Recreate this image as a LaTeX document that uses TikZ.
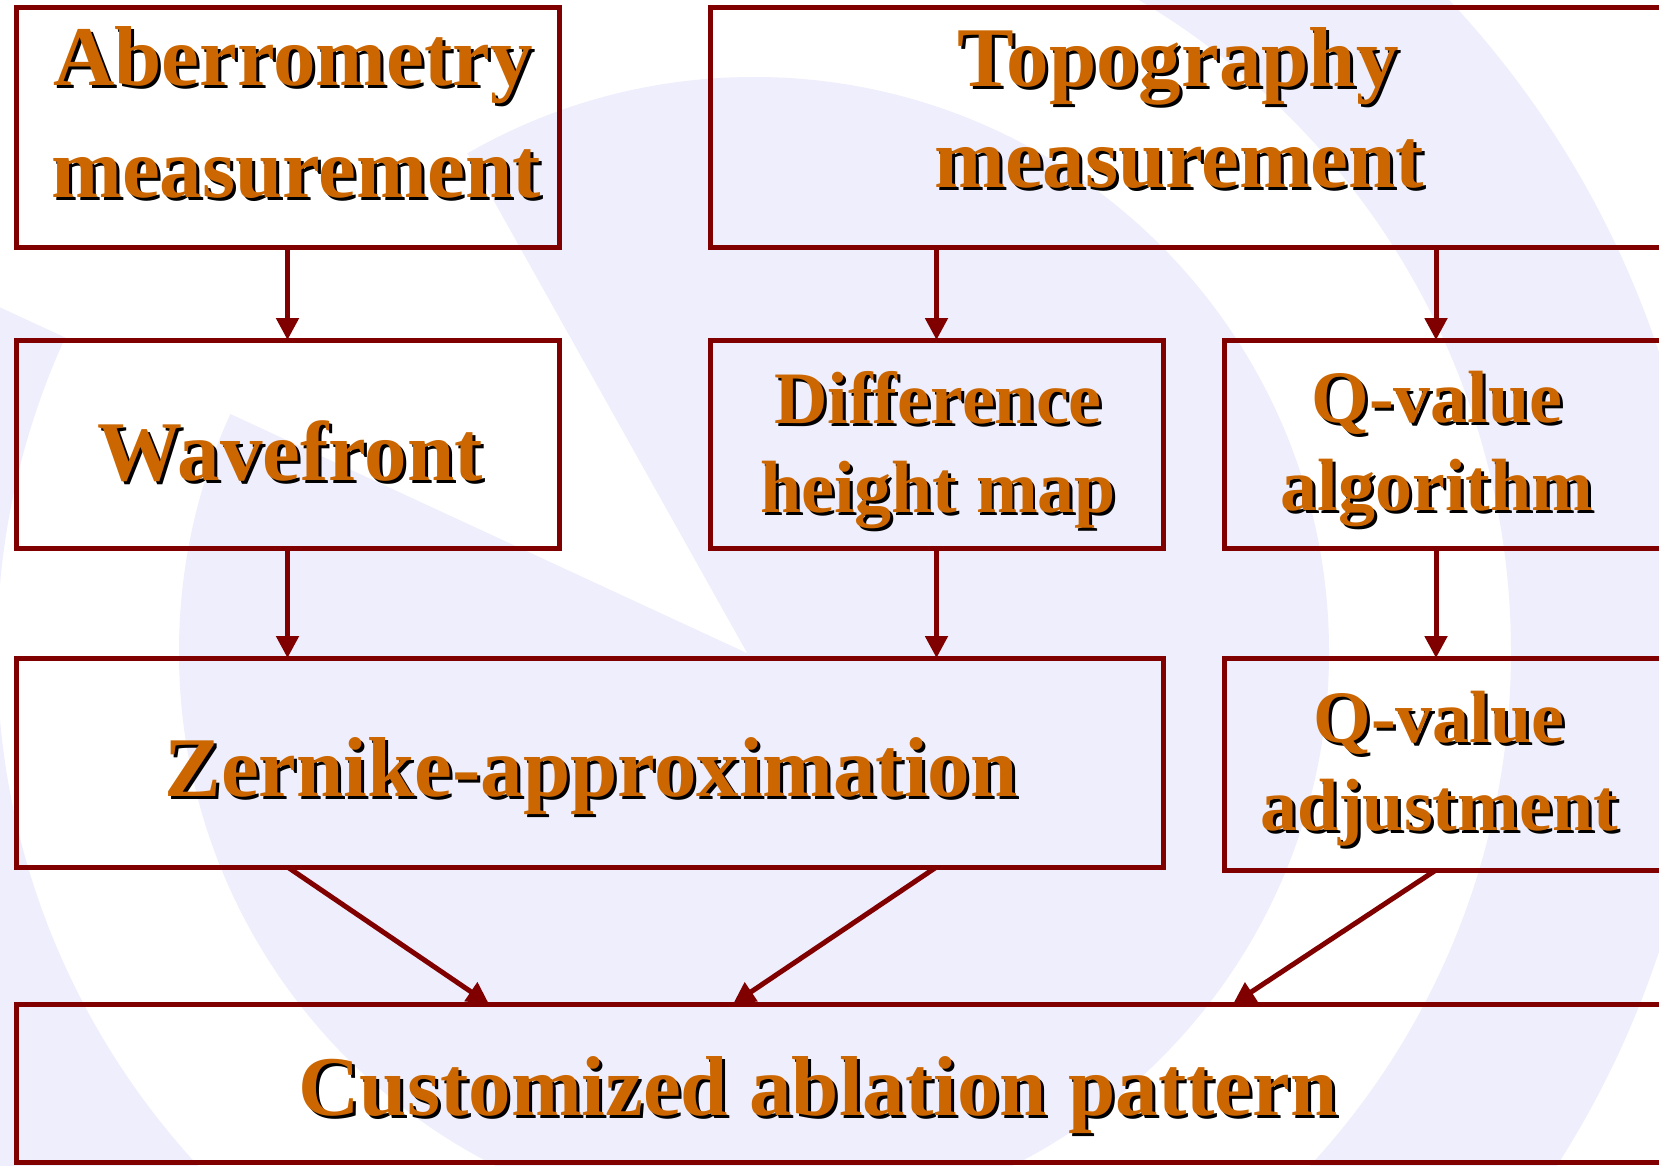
\documentclass[tikz,border=0pt]{standalone}
\usepackage{fontspec}
\setmainfont{Liberation Serif}
\usetikzlibrary{arrows.meta,calc}
\definecolor{boxred}{RGB}{128,0,0}
\definecolor{txtorange}{RGB}{204,102,0}
\definecolor{lav}{RGB}{238,238,252}
\newcommand{\shd}[1]{\rlap{\kern3pt\raisebox{-3pt}{\color{black}#1}}{\color{txtorange}#1}}
\begin{document}
\begin{tikzpicture}[x=1pt,y=-1pt,
  box/.style={draw=boxred, line width=5pt, rectangle, inner sep=0pt, outer sep=0pt},
  big/.style={anchor=base, inner sep=0pt, outer sep=0pt, font=\fontsize{85}{85}\selectfont\bfseries},
  mid/.style={anchor=base, inner sep=0pt, outer sep=0pt, font=\fontsize{74}{74}\selectfont\bfseries},
  arr/.style={draw=boxred, line width=5pt, -{Triangle[length=22pt,width=22pt]}}]
\useasboundingbox (0,0) rectangle (1659,1165);
\clip (0,0) rectangle (1659,1165);
% background swirl
\fill[white] (0,0) rectangle (1659,1165);
\fill[lav, even odd rule] (754,652) circle[radius=953] (754,652) circle[radius=757];
\fill[lav] (754,652) circle[radius=575];
\fill[white] (747,653) -- (-20,298) -- (-20,-20) -- (370,-20) -- cycle;
% boxes
\node[box, minimum width=543pt, minimum height=240pt] (A) at (287.5,127) {};
\node[box, minimum width=990pt, minimum height=240pt] (T) at (1205,127) {};
\node[box, minimum width=543pt, minimum height=208pt] (W) at (287.5,444) {};
\node[box, minimum width=453pt, minimum height=208pt] (D) at (936.5,444) {};
\node[box, minimum width=476pt, minimum height=208pt] (Qa) at (1462,444) {};
\node[box, minimum width=1147pt, minimum height=209pt] (Z) at (589.5,762.5) {};
\node[box, minimum width=476pt, minimum height=212pt] (Qj) at (1462,764) {};
\node[box, minimum width=1684pt, minimum height=158pt] (C) at (858,1083) {};
% column positions
\coordinate (qx) at (1436,0);
\coordinate (c1) at (489,0);
\coordinate (c2) at (733,0);
\coordinate (c3) at (1233,0);
% texts
\node[big] (tA1) at (293,85) {\shd{Aberrometry}};
\node[big] (tA2) at (296,197) {\shd{measurement}};
\node[big] (tT1) at (1178,86) {\shd{Topography}};
\node[big] (tT2) at (1179,187) {\shd{measurement}};
\node[big] (tW) at (290,480) {\shd{Wavefront}};
\node[mid] (tD1) at (938,423) {\shd{Difference}};
\node[mid] (tD2) at (938,512) {\shd{height map}};
\node[mid] (tQa1) at (1437,422) {\shd{Q-value}};
\node[mid] (tQa2) at (1437,510) {\shd{algorithm}};
\node[big] (tZ) at (591,796) {\shd{Zernike-approximation}};
\node[mid] (tQj1) at (1439,742) {\shd{Q-value}};
\node[mid] (tQj2) at (1439,830) {\shd{adjustment}};
\node[big] (tC) at (818,1115) {\shd{Customized ablation pattern}};
% connectors
\draw[arr] (A.south) -- (W.north);
\draw[arr] (T.south -| D.north) -- (D.north);
\draw[arr] (T.south -| qx) -- (Qa.north -| qx);
\draw[arr] (W.south) -- (W.south |- Z.north);
\draw[arr] (D.south) -- (D.south |- Z.north);
\draw[arr] (Qa.south -| qx) -- (Qj.north -| qx);
\draw[arr] (Z.south -| W.south) -- (C.north -| c1);
\draw[arr] (Z.south -| D.south) -- (C.north -| c2);
\draw[arr] (Qj.south -| qx) -- (C.north -| c3);
\end{tikzpicture}
\end{document}
